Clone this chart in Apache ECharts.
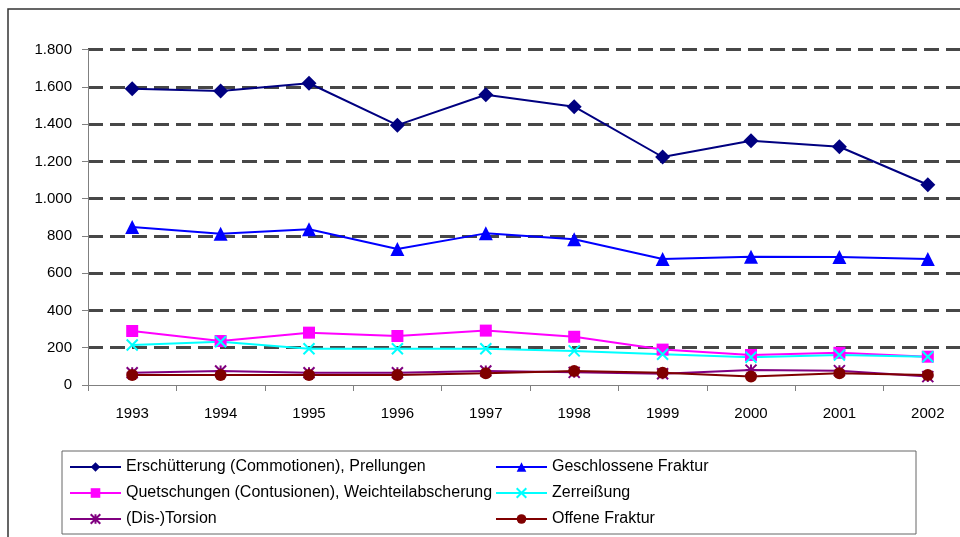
<!DOCTYPE html>
<html>
<head>
<meta charset="utf-8">
<script src="https://cdn.jsdelivr.net/npm/echarts@6/dist/echarts.min.js"></script>
<style>
  html, body { margin: 0; padding: 0; background: #fff; overflow: hidden; }
  #chart { width: 980px; height: 537px; }
</style>
</head>
<body>
<div id="chart"></div>
<script>
const years = ['1993', '1994', '1995', '1996', '1997', '1998', '1999', '2000', '2001', '2002']

const commotion = [1590, 1578, 1620, 1395, 1558, 1494, 1224, 1311, 1279, 1075]
const geschlossen = [848, 812, 836, 730, 814, 782, 676, 689, 687, 676]
const contusion = [290, 236, 281, 263, 292, 259, 190, 161, 173, 152]
const zerreissung = [215, 232, 195, 195, 195, 183, 165, 149, 161, 152]
const torsion = [66, 75, 66, 66, 75, 68, 60, 80, 77, 45]
const offen = [54, 54, 54, 54, 63, 75, 66, 45, 63, 54]

const yTicks = [0, 200, 400, 600, 800, 1000, 1200, 1400, 1600, 1800]

const chart = echarts.init(document.getElementById('chart'))

const starPath = 'path://M0,0L10,10M10,0L0,10M5,0L5,10M0,5L10,5'
const crossPath = 'path://M0,0L10,10M10,0L0,10'

const mkSeries = (name, data, color, symbol, size, stroke) => ({
  name,
  type: 'line',
  data,
  symbol,
  symbolSize: size,
  lineStyle: { color, width: 2 },
  itemStyle: stroke
    ? { color: 'rgba(0,0,0,0)', borderColor: color, borderWidth: 2 }
    : { color, borderWidth: 0 },
  emphasis: { disabled: true }
})

const legendText = { color: '#000', fontSize: 16, fontFamily: 'Liberation Sans' }

chart.setOption({
  animation: false,
  backgroundColor: '#fff',
  textStyle: { fontFamily: 'Liberation Sans' },
  graphic: [
    {
      type: 'rect',
      shape: { x: 8, y: 9, width: 990, height: 560 },
      style: { fill: 'none', stroke: '#333', lineWidth: 1.5 },
      z: -10
    },
    {
      type: 'rect',
      shape: { x: 62, y: 451, width: 854, height: 83 },
      style: { fill: 'none', stroke: '#666', lineWidth: 1 },
      z: -10
    }
  ],
  legend: [
    {
      data: ['Erschütterung (Commotionen), Prellungen', 'Quetschungen (Contusionen), Weichteilabscherung', '(Dis-)Torsion'],
      orient: 'vertical',
      left: 69,
      top: 459,
      padding: 0,
      itemWidth: 51,
      itemHeight: 12,
      itemGap: 10,
      textStyle: legendText
    },
    {
      data: ['Geschlossene Fraktur', 'Zerreißung', 'Offene Fraktur'],
      orient: 'vertical',
      left: 495,
      top: 459,
      padding: 0,
      itemWidth: 51,
      itemHeight: 12,
      itemGap: 10,
      textStyle: legendText
    }
  ],
  grid: { left: 88, right: 8, top: 49.7, bottom: 152 },
  xAxis: {
    type: 'category',
    data: years,
    boundaryGap: true,
    axisLine: { lineStyle: { color: '#808080', width: 1 } },
    axisTick: { show: true, length: 6, interval: 0, lineStyle: { color: '#808080' } },
    axisLabel: { color: '#000', fontSize: 15, margin: 21, interval: 0 },
    splitLine: { show: false }
  },
  yAxis: {
    type: 'value',
    min: 0,
    max: 1800,
    interval: 200,
    axisLine: { show: true, lineStyle: { color: '#808080', width: 1 } },
    axisTick: { show: true, length: 6, lineStyle: { color: '#808080' } },
    axisLabel: {
      color: '#000',
      fontSize: 15,
      margin: 16,
      formatter: v => yTicks.includes(v) ? v.toLocaleString('de-DE') : ''
    },
    splitLine: {
      show: true,
      showMinLine: false,
      lineStyle: { color: '#474747', width: 3, type: [15, 7] }
    }
  },
  series: [
    mkSeries('Erschütterung (Commotionen), Prellungen', commotion, '#000080', 'diamond', 15),
    mkSeries('Geschlossene Fraktur', geschlossen, '#0000ff', 'triangle', 14),
    mkSeries('Quetschungen (Contusionen), Weichteilabscherung', contusion, '#ff00ff', 'rect', 12),
    mkSeries('Zerreißung', zerreissung, '#00ffff', crossPath, 11, true),
    mkSeries('(Dis-)Torsion', torsion, '#800080', starPath, 11, true),
    mkSeries('Offene Fraktur', offen, '#800000', 'circle', 12)
  ]
})
</script>
</body>
</html>
